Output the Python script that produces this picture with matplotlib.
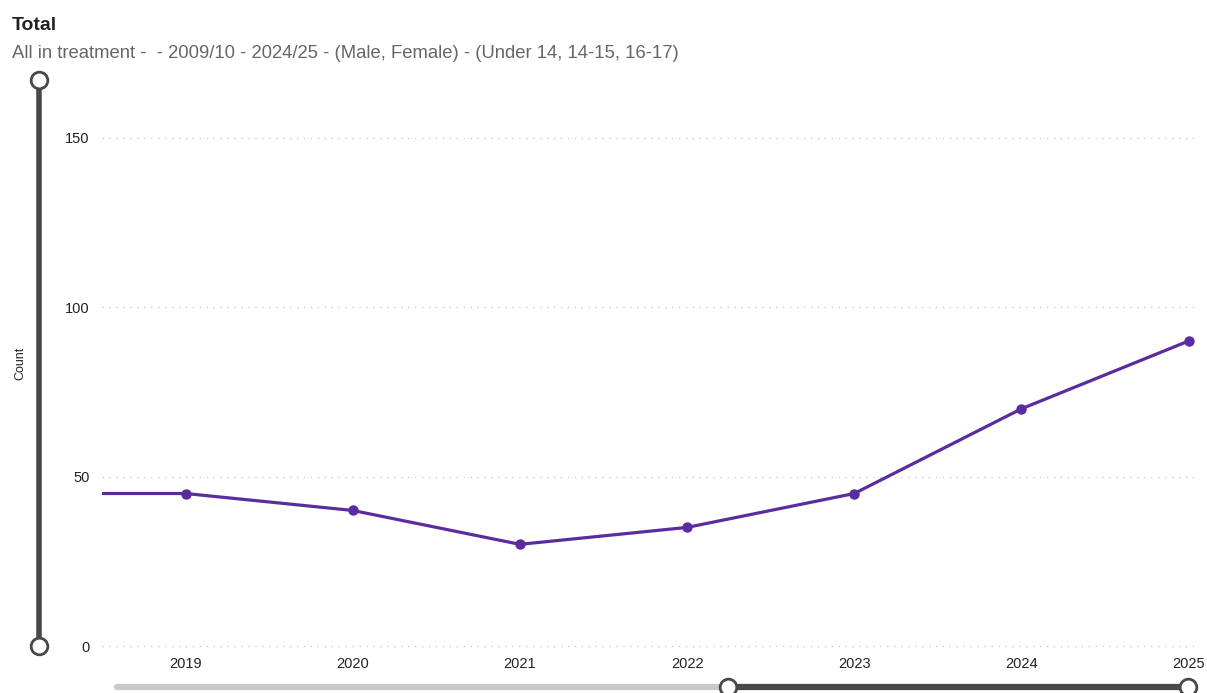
import matplotlib.pyplot as plt
from matplotlib.lines import Line2D

plt.rcParams['font.family'] = ['Liberation Sans', 'DejaVu Sans']

years = [2018, 2019, 2020, 2021, 2022, 2023, 2024, 2025]
counts = [45, 45, 40, 30, 35, 45, 70, 90]
yticks = [0, 50, 100, 150]

fig = plt.figure(figsize=(12.07, 6.93), dpi=100)
ax = fig.add_axes([0.0845, 0.0678, 0.9072, 0.8167])

purple = '#5a2ca0'
ax.plot(years, counts, '-', color=purple, lw=2.3, zorder=3)
ax.plot(years[1:], counts[1:], 'o', color=purple, ms=6.5, zorder=4)

ax.set_xlim(2018.5, 2025.05)
ax.set_ylim(0, 167)
ax.set_yticks(yticks)
ax.set_xticks(years[1:])
ax.set_xticklabels([str(y) for y in years[1:]])
ax.grid(axis='y', color='#cccccc', linestyle=(0, (1, 4)), lw=1)
for gl in ax.get_ygridlines():
    gl.set_clip_on(False)
ax.set_axisbelow(True)
for s in ax.spines.values():
    s.set_visible(False)
ax.tick_params(length=0, labelsize=10.5, colors='#222222')
ax.tick_params(axis='y', pad=9)
ax.tick_params(axis='x', pad=8)

fig.text(12/1207, 1 - 25/693, 'Total', fontsize=14, fontweight='bold',
         color='#222222', va='center')
fig.text(12/1207, 1 - 53/693,
         'All in treatment -  - 2009/10 - 2024/25 - (Male, Female) - (Under 14, 14-15, 16-17)',
         fontsize=13.3, color='#666666', va='center')
fig.text(20/1207, 1 - 363/693, 'Count', fontsize=9, rotation=90,
         va='center', ha='center', color='#222222')

# range sliders
W, H = 1207, 693
def fx(x):
    return x / W
def fy(y):
    return 1 - y / H

fig.add_artist(Line2D([fx(39), fx(39)], [fy(80), fy(646)], color='#484848', lw=4,
                      solid_capstyle='butt'))
fig.add_artist(Line2D([fx(117), fx(728)], [fy(687), fy(687)], color='#c8c8c8', lw=4.5,
                      solid_capstyle='round'))
fig.add_artist(Line2D([fx(728), fx(1188)], [fy(687), fy(687)], color='#484848', lw=4.5,
                      solid_capstyle='butt'))
for (x, y) in [(39, 80), (39, 646), (728, 687), (1188, 687)]:
    fig.add_artist(Line2D([fx(x)], [fy(y)], marker='o', ms=12, mfc='white',
                          mec='#484848', mew=2))

fig.savefig('out.png', dpi=100)
